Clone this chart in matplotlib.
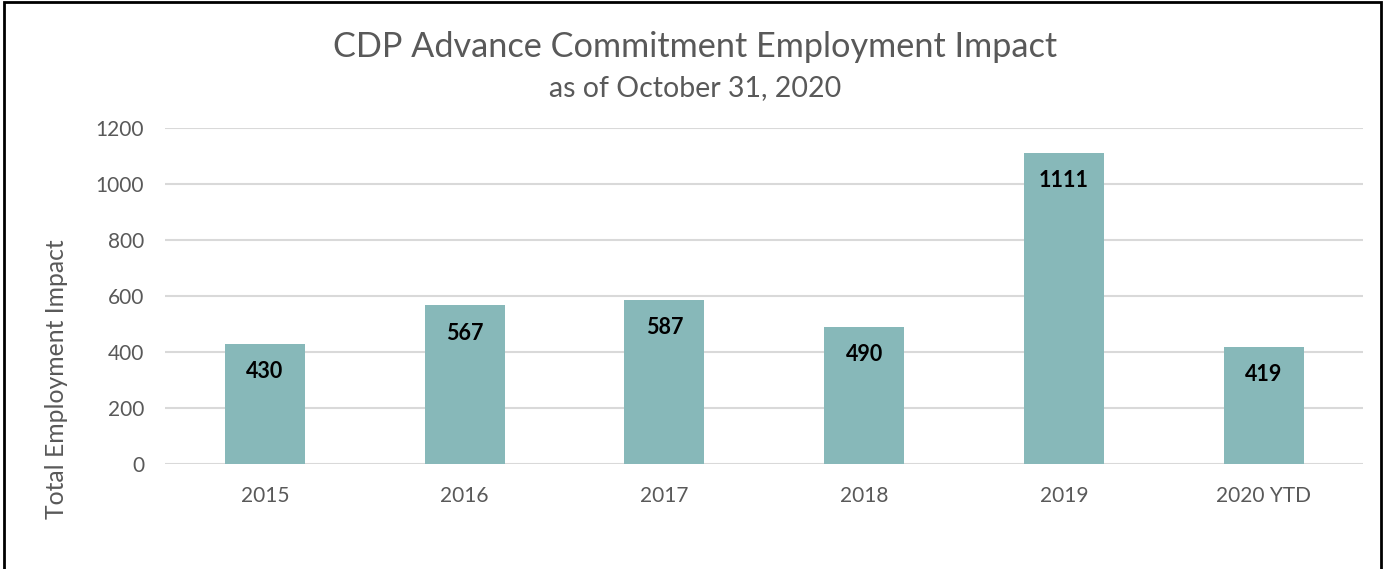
import matplotlib.pyplot as plt
from matplotlib.patches import Rectangle

years = ['2015', '2016', '2017', '2018', '2019', '2020 YTD']
impact = [430, 567, 587, 490, 1111, 419]
yticks = [0, 200, 400, 600, 800, 1000, 1200]

plt.rcParams['font.family'] = ['Lato', 'DejaVu Sans']
gray = '#595959'
bar_color = '#87B8B9'

fig = plt.figure(figsize=(13.87, 5.69), dpi=100)
ax = fig.add_axes([0.119, 0.1845, 0.864, 0.5905])

x = range(len(years))
bars = ax.bar(x, impact, width=0.4, color=bar_color, zorder=3)
for b, v in zip(bars, impact):
    ax.annotate(str(v), (b.get_x() + b.get_width() / 2, v), xytext=(0, -28),
                textcoords='offset pixels', ha='center', va='center',
                fontsize=15.5, fontweight='bold', color='black', zorder=4)

ax.set_xlim(-0.5, len(years) - 0.5)
ax.set_ylim(0, 1200)
ax.set_yticks(yticks)
ax.set_xticks(list(x))
ax.set_xticklabels(years)
ax.yaxis.grid(True, color='#D9D9D9', linewidth=1.5, zorder=0)
ax.set_axisbelow(True)
for s in ax.spines.values():
    s.set_visible(False)
ax.tick_params(length=0, labelsize=15, labelcolor=gray)
ax.tick_params(axis='x', pad=16)
ax.tick_params(axis='y', pad=15)

fig.text(57 / 1387, 0.334, 'Total Employment Impact', rotation=90,
         ha='center', va='center', fontsize=17.8, color=gray)

fig.text(0.501, 0.917, 'CDP Advance Commitment Employment Impact',
         ha='center', va='center', fontsize=24.7, color=gray)
fig.text(0.501, 0.845, 'as of October 31, 2020',
         ha='center', va='center', fontsize=20.5, color=gray)

fig.patches.append(Rectangle((0.003, -0.01), 0.993, 1.006, transform=fig.transFigure,
                             fill=False, edgecolor='black', linewidth=2))

fig.savefig('out.png', dpi=100)
